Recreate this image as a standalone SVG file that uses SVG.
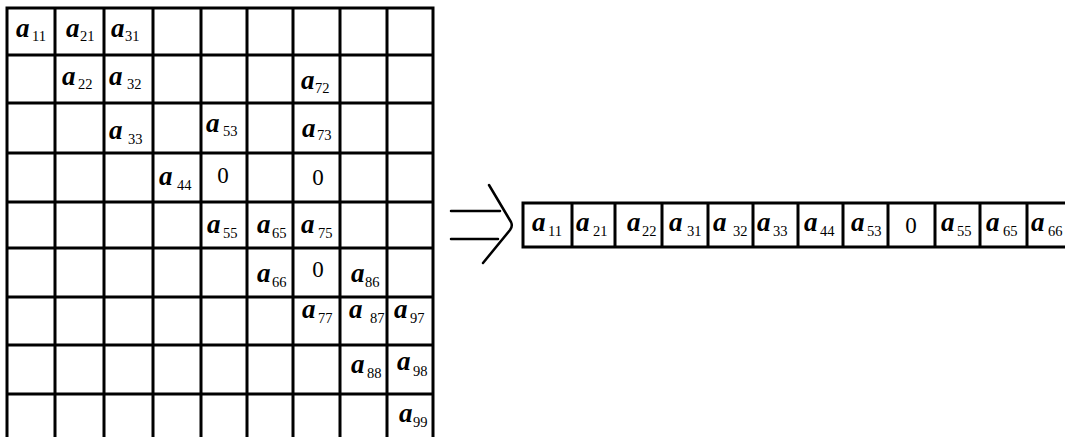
<svg xmlns="http://www.w3.org/2000/svg" width="1065" height="437" viewBox="0 0 1065 437">
<style>
.g{stroke:#000;stroke-width:3;fill:none;stroke-linecap:square}
.ar{stroke:#000;stroke-width:2.5;fill:none;stroke-linecap:round;stroke-linejoin:round}
text{font-family:"Liberation Serif","Times New Roman",serif;fill:#000}
.v{font-style:italic;font-weight:bold;font-size:27px}
.s{font-size:14.5px}
.z{font-size:23px;text-anchor:middle}
</style>
<rect width="1065" height="437" fill="#fff"/>
<g id="matrix">
<path class="g" d="M7,8V437M55,8V437M104,8V437M153,8V437M201,8V437M247,8V437M293,8V437M340,8V437M387,8V437M433,8V437M7,8H433M7,55H433M7,103H433M7,153H433M7,202H433M7,248H433M7,297H433M7,345H433M7,394H433"/>
<text><tspan class="v" x="16" y="37">a</tspan><tspan class="s" x="32" y="41">11</tspan></text>
<text><tspan class="v" x="66" y="37">a</tspan><tspan class="s" x="80" y="41">21</tspan></text>
<text><tspan class="v" x="111" y="37">a</tspan><tspan class="s" x="125" y="41">31</tspan></text>
<text><tspan class="v" x="62" y="85">a</tspan><tspan class="s" x="78" y="89">22</tspan></text>
<text><tspan class="v" x="109" y="85">a</tspan><tspan class="s" x="127" y="89">32</tspan></text>
<text><tspan class="v" x="301" y="89">a</tspan><tspan class="s" x="315" y="93">72</tspan></text>
<text><tspan class="v" x="109" y="139">a</tspan><tspan class="s" x="128" y="144">33</tspan></text>
<text><tspan class="v" x="206" y="132">a</tspan><tspan class="s" x="223" y="136">53</tspan></text>
<text><tspan class="v" x="302" y="137">a</tspan><tspan class="s" x="317" y="140">73</tspan></text>
<text><tspan class="v" x="159" y="185">a</tspan><tspan class="s" x="177" y="190">44</tspan></text>
<text class="z" x="223" y="183">0</text>
<text class="z" x="318" y="185">0</text>
<text><tspan class="v" x="207" y="233">a</tspan><tspan class="s" x="223" y="238">55</tspan></text>
<text><tspan class="v" x="257" y="233">a</tspan><tspan class="s" x="272" y="238">65</tspan></text>
<text><tspan class="v" x="301" y="233">a</tspan><tspan class="s" x="318" y="238">75</tspan></text>
<text><tspan class="v" x="257" y="282">a</tspan><tspan class="s" x="272" y="287">66</tspan></text>
<text class="z" x="318" y="277">0</text>
<text><tspan class="v" x="351" y="282">a</tspan><tspan class="s" x="365" y="287">86</tspan></text>
<text><tspan class="v" x="302" y="318">a</tspan><tspan class="s" x="318" y="323">77</tspan></text>
<text><tspan class="v" x="349" y="318">a</tspan><tspan class="s" x="370" y="323">87</tspan></text>
<text><tspan class="v" x="394" y="318">a</tspan><tspan class="s" x="410" y="323">97</tspan></text>
<text><tspan class="v" x="351" y="373">a</tspan><tspan class="s" x="367" y="378">88</tspan></text>
<text><tspan class="v" x="397" y="370">a</tspan><tspan class="s" x="413" y="376">98</tspan></text>
<text><tspan class="v" x="399" y="422">a</tspan><tspan class="s" x="413" y="427">99</tspan></text>
</g>
<g id="connectors">
<path class="ar" d="M451,211H500M451,239H498M489,185L511,222Q513,226 510,230L483,263"/>
</g>
<g id="array">
<path class="g" d="M523,203H1066M523,247H1066M523,203V247M572,203V247M615,203V247M662,203V247M708,203V247M753,203V247M798,203V247M843,203V247M888,203V247M935,203V247M980,203V247M1027,203V247"/>
<text><tspan class="v" x="532" y="231">a</tspan><tspan class="s" x="548" y="236">11</tspan></text>
<text><tspan class="v" x="576" y="231">a</tspan><tspan class="s" x="593" y="236">21</tspan></text>
<text><tspan class="v" x="627" y="231">a</tspan><tspan class="s" x="642" y="236">22</tspan></text>
<text><tspan class="v" x="669" y="231">a</tspan><tspan class="s" x="687" y="236">31</tspan></text>
<text><tspan class="v" x="713" y="231">a</tspan><tspan class="s" x="733" y="236">32</tspan></text>
<text><tspan class="v" x="757" y="231">a</tspan><tspan class="s" x="773" y="236">33</tspan></text>
<text><tspan class="v" x="804" y="231">a</tspan><tspan class="s" x="820" y="236">44</tspan></text>
<text><tspan class="v" x="851" y="231">a</tspan><tspan class="s" x="867" y="236">53</tspan></text>
<text class="z" x="911" y="233">0</text>
<text><tspan class="v" x="941" y="231">a</tspan><tspan class="s" x="957" y="236">55</tspan></text>
<text><tspan class="v" x="986" y="231">a</tspan><tspan class="s" x="1003" y="236">65</tspan></text>
<text><tspan class="v" x="1031" y="231">a</tspan><tspan class="s" x="1048" y="236">66</tspan></text>
</g>
</svg>
